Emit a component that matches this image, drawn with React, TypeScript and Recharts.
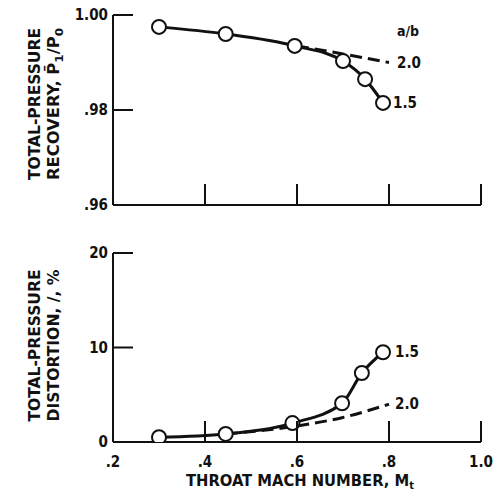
import React from 'react';
import { LineChart, Line, XAxis, YAxis, LabelList } from 'recharts';

// a/b = 1.5 (circles) and a/b = 2.0 (dashed)
const machRec15 = [0.3, 0.445, 0.595, 0.7, 0.748, 0.787];
const recovery15 = [0.9975, 0.996, 0.9935, 0.9903, 0.9865, 0.9815];
const machRec20 = [0.6, 0.7, 0.8];
const recovery20 = [0.9935, 0.9918, 0.99];

const machDist15 = [0.3, 0.445, 0.59, 0.698, 0.741, 0.787];
const distortion15 = [0.5, 0.85, 2.0, 4.1, 7.3, 9.5];
const machDist20 = [0.445, 0.6, 0.7, 0.8];
const distortion20 = [0.85, 1.7, 2.6, 4.0];

const machTicks = [0.2, 0.4, 0.6, 0.8, 1.0];
const machTickLabels = ['.2', '.4', '.6', '.8', '1.0'];
const recoveryTicks = [0.96, 0.98, 1.0];
const recoveryTickLabels = ['.96', '.98', '1.00'];
const distortionTicks = [0, 10, 20];
const distortionTickLabels = ['0', '10', '20'];

const FONT = '"DejaVu Sans Condensed", "Liberation Sans Narrow", "Liberation Sans", sans-serif';
const INK = '#111';

const zip = (xs: number[], ys: number[]) => xs.map((m, i) => ({ m, v: ys[i] }));

const MachTick = (props: any) => {
  const { x, y, payload, showLabel } = props;
  const i = machTicks.indexOf(payload.value);
  return (
    <g>
      {payload.value > 0.2 && <line x1={x} y1={y} x2={x} y2={y - 21} stroke={INK} strokeWidth={2} />}
      {showLabel && (
        <text x={x} y={y + 20} textAnchor="middle" dominantBaseline="central" fontFamily={FONT} fontWeight="bold" fontSize={15} fill={INK}>
          {machTickLabels[i]}
        </text>
      )}
    </g>
  );
};

const ValueTick = (props: any) => {
  const { x, y, payload, ticks, labels } = props;
  const i = ticks.indexOf(payload.value);
  return (
    <g>
      <line x1={x} y1={y} x2={x + 20} y2={y} stroke={INK} strokeWidth={2} />
      <text x={x - 5} y={y} textAnchor="end" dominantBaseline="central" fontFamily={FONT} fontWeight="bold" fontSize={15} fill={INK}>
        {labels[i]}
      </text>
    </g>
  );
};

const YTitle = (props: any) => {
  const { viewBox, line1, line2, shift } = props;
  const cy = viewBox.y + viewBox.height / 2 + shift;
  return (
    <g fontFamily={FONT} fontWeight="bold" fontSize={15} fill={INK}>
      <text transform={`translate(40,${cy}) rotate(-90)`} textAnchor="middle" textLength={152} lengthAdjust="spacingAndGlyphs">
        {line1}
      </text>
      <text transform={`translate(59,${cy}) rotate(-90)`} textAnchor="middle" textLength={152} lengthAdjust="spacingAndGlyphs">
        {line2}
      </text>
    </g>
  );
};

const EndLabel = (props: any) => {
  const { x, y, index, text, last, dx, dy, extra } = props;
  if (index !== last) return null;
  return (
    <g fontFamily={FONT} fontWeight="bold" fontSize={15} fill={INK}>
      <text x={x + dx} y={y + dy} dominantBaseline="central">{text}</text>
      {extra && (
        <text x={x + dx} y={y + dy - 32} dominantBaseline="central" fontSize={14}>{extra}</text>
      )}
    </g>
  );
};

const dotStyle = { r: 7, fill: '#fff', stroke: INK, strokeWidth: 2 };

export default function App() {
  return (
    <div style={{ position: 'absolute', left: 0, top: 0, width: 500, height: 498, background: '#fff' }}>
      <LineChart width={500} height={240} margin={{ top: 15, right: 19, bottom: 5, left: 0 }}>
        <XAxis
          type="number"
          dataKey="m"
          domain={[0.2, 1.0]}
          ticks={machTicks}
          height={30}
          tickSize={0}
          tickMargin={0}
          tickLine={false}
          axisLine={{ stroke: INK, strokeWidth: 2 }}
          tick={(p: any) => <MachTick {...p} showLabel={false} />}
          allowDataOverflow
        />
        <YAxis
          type="number"
          domain={[0.96, 1.0]}
          ticks={recoveryTicks}
          width={113}
          tickSize={0}
          tickMargin={0}
          tickLine={false}
          axisLine={{ stroke: INK, strokeWidth: 2 }}
          tick={(p: any) => <ValueTick {...p} ticks={recoveryTicks} labels={recoveryTickLabels} />}
          allowDataOverflow
          label={{
            content: (p: any) => (
              <YTitle
                {...p}
                shift={-6}
                line1="TOTAL-PRESSURE"
                line2={
                  <>
                    {'RECOVERY, P\u0304'}
                    <tspan dy={4} fontSize={11}>1</tspan>
                    <tspan dy={-4}>/P</tspan>
                    <tspan dy={4} fontSize={11}>0</tspan>
                  </>
                }
              />
            ),
          }}
        />
        <Line
          data={zip(machRec20, recovery20)}
          dataKey="v"
          type="monotone"
          stroke={INK}
          strokeWidth={3}
          strokeDasharray="12 6"
          dot={false}
          isAnimationActive={false}
        >
          <LabelList content={(p: any) => <EndLabel {...p} last={machRec20.length - 1} text="2.0" dx={8} dy={0} extra="a/b" />} />
        </Line>
        <Line
          data={zip(machRec15, recovery15)}
          dataKey="v"
          type="monotone"
          stroke={INK}
          strokeWidth={3}
          dot={dotStyle}
          isAnimationActive={false}
        >
          <LabelList content={(p: any) => <EndLabel {...p} last={machRec15.length - 1} text="1.5" dx={10} dy={0} />} />
        </Line>
      </LineChart>

      <LineChart width={500} height={258} margin={{ top: 13, right: 19, bottom: 6, left: 0 }}>
        <XAxis
          type="number"
          dataKey="m"
          domain={[0.2, 1.0]}
          ticks={machTicks}
          height={50}
          tickSize={0}
          tickMargin={0}
          tickLine={false}
          axisLine={{ stroke: INK, strokeWidth: 2 }}
          tick={(p: any) => <MachTick {...p} showLabel />}
          allowDataOverflow
          label={{
            content: (p: any) => {
              const vb = p.viewBox;
              return (
                <text x={vb.x + vb.width / 2 + 3} y={vb.y + 39} textAnchor="middle" dominantBaseline="central" fontFamily={FONT} fontWeight="bold" fontSize={15} fill={INK} textLength={228} lengthAdjust="spacingAndGlyphs">
                  THROAT MACH NUMBER, M
                  <tspan dy={4} fontSize={10}>t</tspan>
                </text>
              );
            },
          }}
        />
        <YAxis
          type="number"
          domain={[0, 20]}
          ticks={distortionTicks}
          width={113}
          tickSize={0}
          tickMargin={0}
          tickLine={false}
          axisLine={{ stroke: INK, strokeWidth: 2 }}
          tick={(p: any) => <ValueTick {...p} ticks={distortionTicks} labels={distortionTickLabels} />}
          allowDataOverflow
          label={{
            content: (p: any) => <YTitle {...p} shift={-2} line1="TOTAL-PRESSURE" line2="DISTORTION, /, %" />,
          }}
        />
        <Line
          data={zip(machDist20, distortion20)}
          dataKey="v"
          type="monotone"
          stroke={INK}
          strokeWidth={3}
          strokeDasharray="12 6"
          dot={false}
          isAnimationActive={false}
        >
          <LabelList content={(p: any) => <EndLabel {...p} last={machDist20.length - 1} text="2.0" dx={6} dy={0} />} />
        </Line>
        <Line
          data={zip(machDist15, distortion15)}
          dataKey="v"
          type="monotone"
          stroke={INK}
          strokeWidth={3}
          dot={dotStyle}
          isAnimationActive={false}
        >
          <LabelList content={(p: any) => <EndLabel {...p} last={machDist15.length - 1} text="1.5" dx={12} dy={0} />} />
        </Line>
      </LineChart>
    </div>
  );
}
